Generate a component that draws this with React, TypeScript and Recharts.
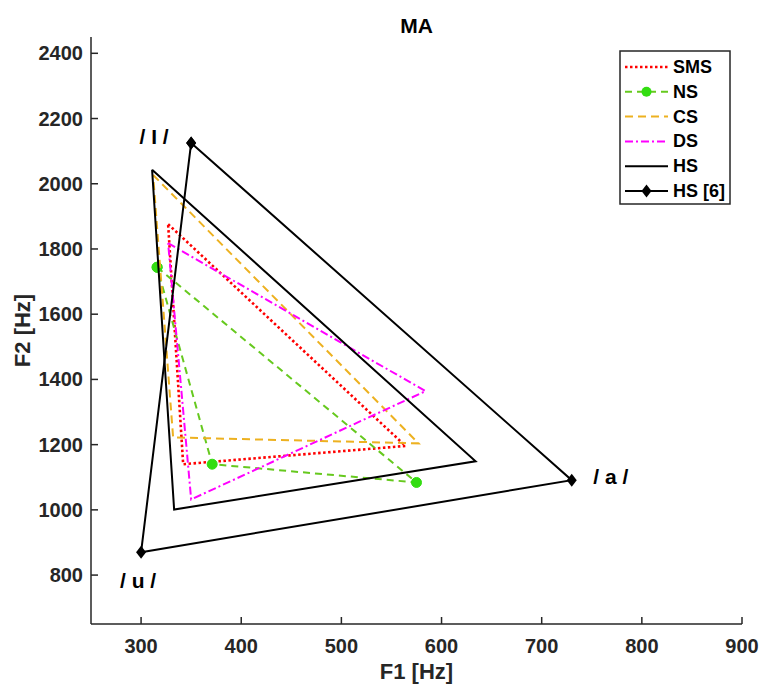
import React from 'react';
import { ScatterChart, Scatter, XAxis, YAxis, Legend } from 'recharts';

// vowel triangles, F1/F2 in Hz, order /i/ -> /a/ -> /u/ -> back to /i/
const smsF1 = [327, 564, 342, 327];
const smsF2 = [1876, 1196, 1140, 1876];
const nsF1 = [316, 575, 371, 316];
const nsF2 = [1744, 1084, 1140, 1744];
const csF1 = [312, 577, 332, 312];
const csF2 = [2027, 1204, 1222, 2027];
const dsF1 = [327, 584, 350, 327];
const dsF2 = [1818, 1364, 1032, 1818];
const hsF1 = [311, 634, 333, 311];
const hsF2 = [2043, 1149, 1001, 2043];
const hs6F1 = [350, 730, 300, 350];
const hs6F2 = [2125, 1091, 870, 2125];

const vowelText = ['/ I /', '/ a /', '/ u /'];
const vowelF1 = [313, 769, 297];
const vowelF2 = [2146, 1103, 784];

const xTicks = [300, 400, 500, 600, 700, 800, 900];
const yTicks = [800, 1000, 1200, 1400, 1600, 1800, 2000, 2200, 2400];

const toPts = (f1: number[], f2: number[]) => f1.map((v, i) => ({ f1: v, f2: f2[i] }));

const FONT = '"Liberation Sans", Arial, Helvetica, sans-serif';
const AX = '#262626';

const series = [
  { name: 'SMS', data: toPts(smsF1, smsF2), color: '#FF0000', dash: '2.5 2.5', w: 2.6, marker: 'none' },
  { name: 'NS', data: toPts(nsF1, nsF2), color: '#66C91E', dash: '7 5', w: 2, marker: 'circle' },
  { name: 'CS', data: toPts(csF1, csF2), color: '#EDB120', dash: '8 5', w: 2, marker: 'none' },
  { name: 'DS', data: toPts(dsF1, dsF2), color: '#FF00FF', dash: '8 3 2 3', w: 2, marker: 'none' },
  { name: 'HS', data: toPts(hsF1, hsF2), color: '#000000', dash: undefined, w: 2, marker: 'none' },
  { name: 'HS [6]', data: toPts(hs6F1, hs6F2), color: '#000000', dash: undefined, w: 2, marker: 'diamond' },
];

const vowels = vowelText.map((t, i) => ({ f1: vowelF1[i], f2: vowelF2[i], text: t }));

function markerShape(kind: string) {
  return (p: any) => {
    if (kind === 'circle') return <circle cx={p.cx} cy={p.cy} r={5} fill="#33DD11" stroke="#33DD11" />;
    if (kind === 'diamond')
      return (
        <path
          d={`M${p.cx},${p.cy - 6.5} L${p.cx + 5},${p.cy} L${p.cx},${p.cy + 6.5} L${p.cx - 5},${p.cy} Z`}
          fill="#000"
        />
      );
    return <g />;
  };
}

const XTick = (p: any) => (
  <g>
    <line x1={p.x} y1={p.y} x2={p.x} y2={p.y - 7} stroke={AX} strokeWidth={1.5} />
    <text x={p.x} y={p.y + 22} textAnchor="middle" dominantBaseline="central" fontFamily={FONT} fontWeight="bold" fontSize={20} fill={AX}>
      {p.payload.value}
    </text>
  </g>
);

const YTick = (p: any) => (
  <g>
    <line x1={p.x} y1={p.y} x2={p.x + 7} y2={p.y} stroke={AX} strokeWidth={1.5} />
    <text x={p.x - 8} y={p.y} textAnchor="end" dominantBaseline="central" fontFamily={FONT} fontWeight="bold" fontSize={20} fill={AX}>
      {p.payload.value}
    </text>
  </g>
);

const LegendBox = () => (
  <svg width={112} height={155} style={{ display: 'block' }}>
    <rect x={1} y={1} width={110} height={153} fill="#fff" stroke={AX} strokeWidth={1.5} />
    {series.map((s, i) => {
      const cy = 17 + i * 24.8;
      return (
        <g key={s.name}>
          <line x1={6} y1={cy} x2={49} y2={cy} stroke={s.color} strokeWidth={s.w} strokeDasharray={s.dash} />
          {s.marker === 'circle' && <circle cx={27.5} cy={cy} r={5} fill="#33DD11" />}
          {s.marker === 'diamond' && (
            <path d={`M27.5,${cy - 6.5} L32.5,${cy} L27.5,${cy + 6.5} L22.5,${cy} Z`} fill="#000" />
          )}
          <text x={54} y={cy} dominantBaseline="central" fontFamily={FONT} fontWeight="bold" fontSize={18} fill="#000">
            {s.name}
          </text>
        </g>
      );
    })}
  </svg>
);

export default function App() {
  return (
    <div style={{ position: 'absolute', left: 0, top: 0, width: 763, height: 691, background: '#fff' }}>
      <ScatterChart width={763} height={691} margin={{ top: 37, right: 21, bottom: 0, left: 0 }}>
        <text x={416.5} y={25} textAnchor="middle" dominantBaseline="central" fontFamily={FONT} fontWeight="bold" fontSize={21} fill="#000">
          MA
        </text>
        <XAxis
          type="number"
          dataKey="f1"
          domain={[250, 900]}
          ticks={xTicks}
          interval={0}
          height={67}
          tickSize={0}
          tickMargin={0}
          tickLine={false}
          tick={<XTick />}
          axisLine={{ stroke: AX, strokeWidth: 1.5 }}
          allowDataOverflow
          label={{ value: 'F1 [Hz]', position: 'insideBottom', offset: 12, fontFamily: FONT, fontWeight: 'bold', fontSize: 22, fill: AX }}
        />
        <YAxis
          type="number"
          dataKey="f2"
          domain={[650, 2450]}
          ticks={yTicks}
          interval={0}
          width={91}
          tickSize={0}
          tickMargin={0}
          tickLine={false}
          tick={<YTick />}
          axisLine={{ stroke: AX, strokeWidth: 1.5 }}
          allowDataOverflow
          label={{ value: 'F2 [Hz]', angle: -90, position: 'insideLeft', offset: 22, fontFamily: FONT, fontWeight: 'bold', fontSize: 22, fill: AX, style: { textAnchor: 'middle' } }}
        />
        {series.map((s) => (
          <Scatter
            key={s.name}
            name={s.name}
            data={s.data}
            isAnimationActive={false}
            fill={s.color}
            strokeWidth={s.w}
            line={{ stroke: s.color, strokeWidth: s.w, strokeDasharray: s.dash }}
            lineType="joint"
            shape={markerShape(s.marker)}
          />
        ))}
        <Scatter
          name="labels"
          data={vowels}
          isAnimationActive={false}
          legendType="none"
          shape={(p: any) => (
            <text x={p.cx} y={p.cy} textAnchor="middle" dominantBaseline="central" fontFamily={FONT} fontWeight="bold" fontSize={21} fill="#000">
              {p.payload.text}
            </text>
          )}
        />
        <Legend
          layout="vertical"
          align="center"
          verticalAlign="middle"
          wrapperStyle={{ left: 619, top: 50, width: 112, height: 155 }}
          content={() => <LegendBox />}
        />
      </ScatterChart>
    </div>
  );
}
